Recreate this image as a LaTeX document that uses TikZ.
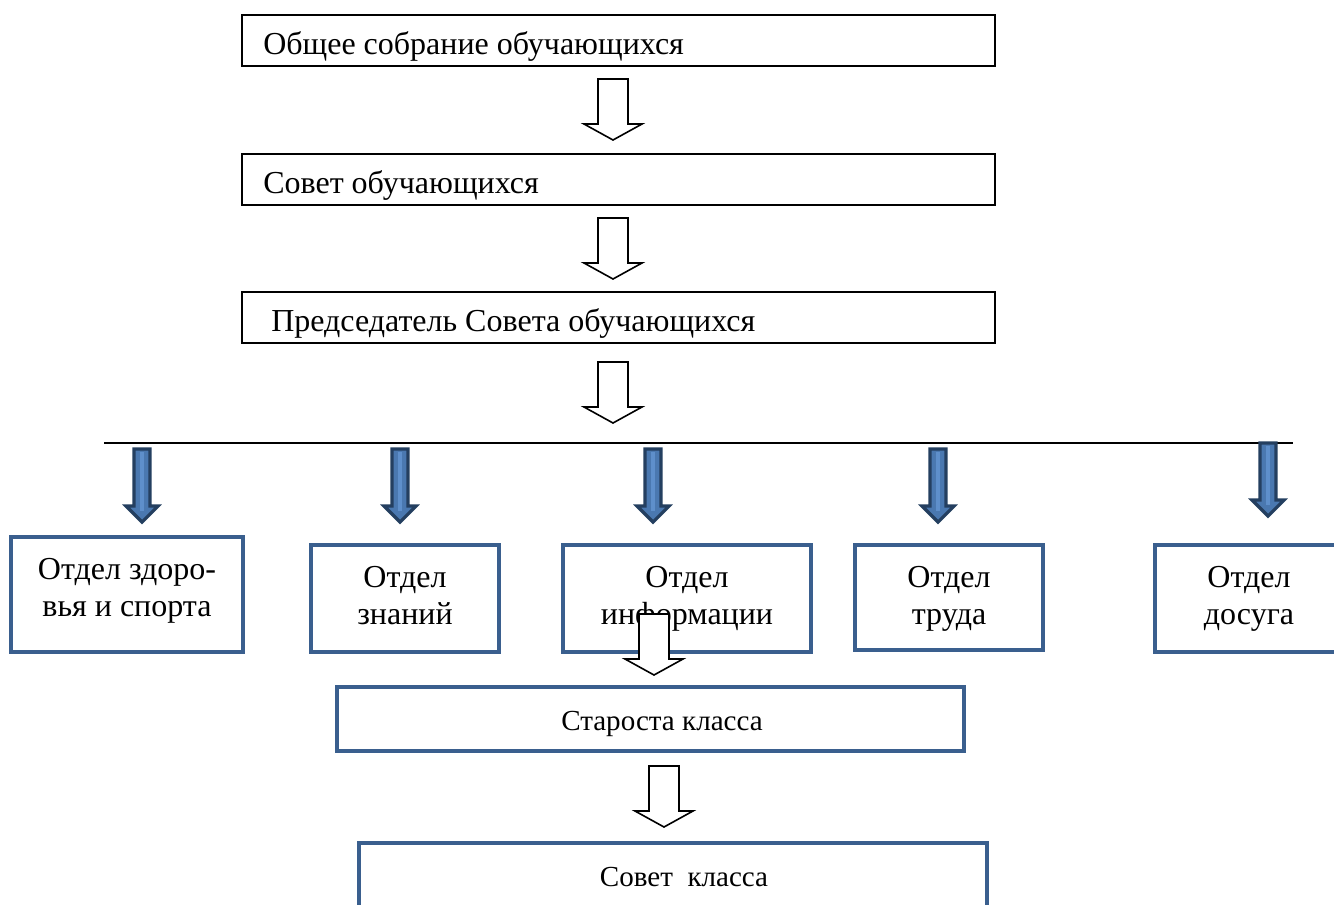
\documentclass[tikz,border=0pt]{standalone}
\usepackage{fontspec}
\setmainfont{Liberation Serif}
\usetikzlibrary{fit}
\definecolor{boxblue}{HTML}{3A5F8E}
\definecolor{arrdark}{HTML}{243F60}
\definecolor{arrfill}{HTML}{4A78B0}
\definecolor{arrlight}{HTML}{5E8FCB}
\tikzset{
  topbox/.style={draw=black, line width=1.5pt, inner sep=0pt},
  bluebox/.style={draw=boxblue, line width=3pt, fill=white, inner sep=0pt},
  toptext/.style={font=\fontsize{24}{28}\selectfont, anchor=base west, inner sep=0pt},
  depttext/.style={font=\fontsize{24}{28}\selectfont, align=center, inner sep=0pt},
  classtext/.style={font=\fontsize{21.8}{25}\selectfont, anchor=base, inner sep=0pt},
  hollowarrow/.pic={\draw[line width=1.2pt, fill=white, line join=miter]
      (-15,0) -- (15,0) -- (15,45) -- (29,45) -- (0,61) -- (-29,45) -- (-15,45) -- cycle;},
  bluearrow/.pic={\draw[draw=arrdark, line width=2.4pt, fill=arrfill, line join=miter]
      (-8,0) -- (8,0) -- (8,57) -- (16,57) -- (0,73) -- (-16,57) -- (-8,57) -- cycle;
      \draw[arrlight, line width=2.5pt] (0,3) -- (0,62);},
}
\begin{document}
\begin{tikzpicture}[x=0.75pt, y=-0.75pt]
\useasboundingbox (0,0) rectangle (1334,904);
\fill[white] (0,0) rectangle (1334,904);

% top chain
\node[topbox, fit={(242,15)(995,66)}] (gen) {};
\node[toptext] (gentext) at (263,54) {Общее собрание обучающихся};
\node[topbox, fit={(242,154)(995,205)}] (sov) {};
\node[toptext] (sovtext) at (263,193) {Совет обучающихся};
\node[topbox, fit={(242,292)(995,343)}] (pred) {};
\node[toptext] (predtext) at (271,331) {Председатель Совета обучающихся};

\pic at (613,79) {hollowarrow};
\pic at (613,218) {hollowarrow};
\pic at (613,362) {hollowarrow};

% horizontal bar
\coordinate (barL) at (104,443);
\coordinate (barR) at (1293,443);
\draw[line width=1.5pt] (barL) -- (barR);

% blue arrows
\pic at (142,449) {bluearrow};
\pic at (400,449) {bluearrow};
\pic at (653,449) {bluearrow};
\pic at (938,449) {bluearrow};
\pic at (1268,443) {bluearrow};

% departments
\node[bluebox, fit={(11,537)(243,652)}] (d1) {};
\node[depttext] (d1t) at (127,591) {Отдел здоро-\\вья и спорта};
\node[bluebox, fit={(311,545)(499,652)}] (d2) {};
\node[depttext] (d2t) at (405,595.5) {Отдел\\знаний};
\node[bluebox, fit={(563,545)(811,652)}] (d3) {};
\node[depttext] (d3t) at (687,599) {Отдел\\информации};
\node[bluebox, fit={(855,545)(1043,650)}] (d4) {};
\node[depttext] (d4t) at (949,599) {Отдел\\труда};
\node[bluebox, fit={(1155,545)(1345,652)}] (d5) {};
\node[depttext] (d5t) at (1249,599) {Отдел\\досуга};

\pic at (654,614) {hollowarrow};

% class level
\node[bluebox, fit={(337,687)(964,751)}] (star) {};
\node[classtext] (start) at (662,730) {Староста класса};
\pic at (664,766) {hollowarrow};
\node[bluebox, fit={(359,843)(987,915)}] (sk) {};
\node[classtext] (skt) at (684,886) {Совет~ класса};
\end{tikzpicture}
\end{document}
